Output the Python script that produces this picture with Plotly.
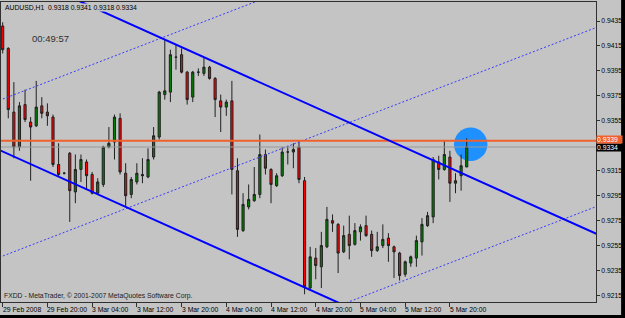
import plotly.graph_objects as go

# ---------------- data (AUDUSD, H1) ----------------
bar_open = [0.9431, 0.9413, 0.9362, 0.9334, 0.9368, 0.9354, 0.9351, 0.9367, 0.9362, 0.9358,
            0.9320, 0.9313, 0.9329, 0.9298, 0.9316, 0.9322, 0.9312, 0.9297, 0.9304, 0.9334,
            0.9338, 0.9357, 0.9313, 0.9296, 0.9306, 0.9312, 0.9310, 0.9326, 0.9342, 0.9376,
            0.9378, 0.9406, 0.9408, 0.9394, 0.9374, 0.9394, 0.9393, 0.9398, 0.9389, 0.9371,
            0.9366, 0.9371, 0.9315, 0.9267, 0.9286, 0.9291, 0.9296, 0.9328, 0.9316, 0.9303,
            0.9311, 0.9330, 0.9330, 0.9334, 0.9307, 0.9221, 0.9245, 0.9238, 0.9254, 0.9275,
            0.9272, 0.9250, 0.9264, 0.9256, 0.9266, 0.9271, 0.9264, 0.9251, 0.9255, 0.9261,
            0.9254, 0.9249, 0.9232, 0.9241, 0.9245, 0.9258, 0.9271, 0.9278, 0.9322, 0.9316,
            0.9326, 0.9305, 0.9311, 0.9318]
bar_high = [0.9434, 0.9414, 0.9386, 0.9370, 0.9380, 0.9358, 0.9387, 0.9374, 0.9369, 0.9360,
            0.9337, 0.9314, 0.9330, 0.9328, 0.9328, 0.9324, 0.9314, 0.9309, 0.9335, 0.9350,
            0.9360, 0.9361, 0.9321, 0.9310, 0.9321, 0.9325, 0.9333, 0.9350, 0.9379, 0.9420,
            0.9412, 0.9416, 0.9413, 0.9395, 0.9395, 0.9397, 0.9406, 0.9399, 0.9390, 0.9376,
            0.9372, 0.9387, 0.9325, 0.9297, 0.9304, 0.9318, 0.9344, 0.9332, 0.9317, 0.9313,
            0.9334, 0.9335, 0.9337, 0.9339, 0.9310, 0.9254, 0.9253, 0.9266, 0.9286, 0.9280,
            0.9273, 0.9271, 0.9279, 0.9273, 0.9272, 0.9279, 0.9267, 0.9266, 0.9272, 0.9265,
            0.9255, 0.9250, 0.9243, 0.9247, 0.9263, 0.9277, 0.9282, 0.9326, 0.9327, 0.9339,
            0.9331, 0.9313, 0.9328, 0.9341]
bar_low = [0.9409, 0.9357, 0.9325, 0.9331, 0.9354, 0.9307, 0.9350, 0.9357, 0.9351, 0.9318,
           0.9310, 0.9312, 0.9274, 0.9289, 0.9306, 0.9300, 0.9296, 0.9296, 0.9302, 0.9333,
           0.9324, 0.9312, 0.9286, 0.9293, 0.9304, 0.9305, 0.9309, 0.9324, 0.9340, 0.9372,
           0.9370, 0.9396, 0.9393, 0.9368, 0.9370, 0.9391, 0.9391, 0.9388, 0.9358, 0.9346,
           0.9359, 0.9296, 0.9262, 0.9266, 0.9284, 0.9290, 0.9293, 0.9312, 0.9289, 0.9302,
           0.9310, 0.9320, 0.9317, 0.9305, 0.9216, 0.9219, 0.9228, 0.9221, 0.9253, 0.9266,
           0.9233, 0.9249, 0.9244, 0.9255, 0.9259, 0.9262, 0.9246, 0.9250, 0.9253, 0.9242,
           0.9229, 0.9227, 0.9230, 0.9238, 0.9238, 0.9247, 0.9270, 0.9273, 0.9308, 0.9315,
           0.9290, 0.9297, 0.9299, 0.9318]
bar_close = [0.9412, 0.9364, 0.9334, 0.9367, 0.9356, 0.9350, 0.9366, 0.9361, 0.9359, 0.9320,
             0.9312, 0.9313, 0.9299, 0.9316, 0.9324, 0.9311, 0.9297, 0.9306, 0.9334, 0.9337,
             0.9358, 0.9314, 0.9295, 0.9308, 0.9313, 0.9311, 0.9324, 0.9343, 0.9378, 0.9379,
             0.9408, 0.9406, 0.9394, 0.9372, 0.9394, 0.9394, 0.9398, 0.9389, 0.9372, 0.9366,
             0.9370, 0.9316, 0.9268, 0.9288, 0.9292, 0.9296, 0.9328, 0.9317, 0.9304, 0.9311,
             0.9330, 0.9330, 0.9332, 0.9308, 0.9222, 0.9246, 0.9239, 0.9255, 0.9276, 0.9273,
             0.9249, 0.9263, 0.9255, 0.9267, 0.9270, 0.9263, 0.9251, 0.9254, 0.9260, 0.9255,
             0.9250, 0.9231, 0.9242, 0.9246, 0.9259, 0.9272, 0.9279, 0.9324, 0.9316, 0.9328,
             0.9305, 0.9307, 0.9319, 0.9334]
bar_index = list(range(len(bar_open)))

time_tick_bars = [0, 8, 16, 24, 32, 40, 48, 56, 64, 72, 80]
time_tick_labels = ["29 Feb 2008", "29 Feb 20:00", "3 Mar 04:00", "3 Mar 12:00", "3 Mar 20:00",
                    "4 Mar 04:00", "4 Mar 12:00", "4 Mar 20:00", "5 Mar 04:00", "5 Mar 12:00",
                    "5 Mar 20:00"]
price_ticks = [0.9215, 0.9235, 0.9255, 0.9275, 0.9295, 0.9315, 0.9355, 0.9375, 0.9395,
               0.9415, 0.9435]
ask_price = 0.9339
bid_price = 0.9334
title_text = "AUDUSD,H1  0.9318 0.9341 0.9318 0.9334"
clock_text = "00:49:57"
footer_text = "FXDD - MetaTrader, © 2001-2007 MetaQuotes Software Corp."

# trend lines as two anchors: (bar1, price1, bar2, price2)
channel_upper = (29, 0.94201, 83, 0.93112)
channel_lower = (29, 0.92719, 83, 0.91630)
dotted_upper = (0, 0.93724, 83, 0.95156)
dotted_middle = (0, 0.92466, 83, 0.93898)
dotted_lower = (0, 0.91031, 83, 0.92463)
# highlight ellipse: centre bar, centre price, half width (bars), half height (price)
highlight = (83.72, 0.93362, 2.99, 0.00134)

x_range = [-0.30, 106.13]
y_range = [0.920979, 0.945023]

BG = "#C4C4C4"
FONT = "Liberation Sans, Arial, sans-serif"
FS = 6.8

fig = go.Figure()
fig.add_trace(go.Candlestick(
    x=bar_index, open=bar_open, high=bar_high, low=bar_low, close=bar_close,
    increasing=dict(fillcolor="#008000", line=dict(color="#202020", width=1)),
    decreasing=dict(fillcolor="#FF0000", line=dict(color="#202020", width=1)),
    whiskerwidth=0, hoverinfo="skip", showlegend=False,
))

shapes = []
cx, cy, rx, ry = highlight
shapes.append(dict(type="circle", xref="x", yref="y", x0=cx - rx, x1=cx + rx,
                   y0=cy - ry, y1=cy + ry, fillcolor="#1E90FF",
                   line=dict(width=0), layer="below"))


def extended(anchor):
    b1, p1, b2, p2 = anchor
    k = (p2 - p1) / (b2 - b1)
    xa, xb = x_range[0] - 1, x_range[1] + 1
    return xa, p1 + k * (xa - b1), xb, p1 + k * (xb - b1)


for anc in (dotted_upper, dotted_middle, dotted_lower):
    xa, ya, xb, yb = extended(anc)
    shapes.append(dict(type="line", xref="x", yref="y", x0=xa, y0=ya, x1=xb, y1=yb,
                       line=dict(color="#3A3AFF", width=1, dash="2px,2px"), layer="above"))

# bid / ask lines
shapes.append(dict(type="line", xref="paper", yref="y", x0=0, x1=1, y0=bid_price, y1=bid_price,
                   line=dict(color="#9A9A9A", width=1), layer="above"))
shapes.append(dict(type="line", xref="paper", yref="y", x0=0, x1=1, y0=ask_price, y1=ask_price,
                   line=dict(color="#F0602C", width=2), layer="above"))

for anc in (channel_upper, channel_lower):
    xa, ya, xb, yb = extended(anc)
    shapes.append(dict(type="line", xref="x", yref="y", x0=xa, y0=ya, x1=xb, y1=yb,
                       line=dict(color="#0000FF", width=2), layer="above"))

# window borders (black) on right and bottom
shapes.append(dict(type="rect", xref="paper", yref="paper", x0=1.0422, x1=1.07, y0=-0.08, y1=1.02,
                   fillcolor="black", line=dict(width=0), layer="above"))
shapes.append(dict(type="rect", xref="paper", yref="paper", x0=-0.01, x1=1.07, y0=-0.08, y1=-0.0436,
                   fillcolor="black", line=dict(width=0), layer="above"))

annotations = []
for b, lab in zip(time_tick_bars, time_tick_labels):
    annotations.append(dict(x=b, y=0, xref="x", yref="paper", xanchor="left", yanchor="top",
                            yshift=-2, xshift=-2, text=lab, showarrow=False,
                            font=dict(family=FONT, size=FS, color="black")))
annotations.append(dict(x=0, y=1, xref="paper", yref="paper", xanchor="left", yanchor="top",
                        xshift=3, yshift=-1, text=title_text, showarrow=False, bgcolor=BG,
                        borderpad=0, font=dict(family=FONT, size=FS, color="black")))
annotations.append(dict(x=0.0832, y=0.8767, xref="paper", yref="paper", xanchor="center",
                        yanchor="middle", text=clock_text, showarrow=False,
                        font=dict(family=FONT, size=9.5, color="#303030")))
annotations.append(dict(x=0, y=0, xref="paper", yref="paper", xanchor="left", yanchor="bottom",
                        xshift=1, yshift=0, text=footer_text, showarrow=False,
                        font=dict(family=FONT, size=FS, color="#202020")))
annotations.append(dict(x=1, y=bid_price, xref="paper", yref="y", xanchor="left", yanchor="middle",
                        xshift=0, text=f"{bid_price:.4f}", showarrow=False, bgcolor="black",
                        borderpad=0, width=25, align="left",
                        font=dict(family=FONT, size=FS, color="white")))
annotations.append(dict(x=1, y=ask_price, xref="paper", yref="y", xanchor="left", yanchor="middle",
                        xshift=0, yshift=1, text=f"{ask_price:.4f}", showarrow=False, bgcolor="#F0602C",
                        borderpad=0, width=25, align="left",
                        font=dict(family=FONT, size=FS, color="white")))

fig.update_layout(
    width=625, height=318,
    margin=dict(l=1, r=29, t=2, b=16, pad=0),
    paper_bgcolor=BG, plot_bgcolor=BG,
    showlegend=False, boxgap=0.45,
    shapes=shapes, annotations=annotations,
    xaxis=dict(range=x_range, tickvals=time_tick_bars, ticktext=[""] * len(time_tick_bars),
               ticks="outside", ticklen=4, tickcolor="#303030", showline=True, linecolor="#303030",
               linewidth=1, mirror=True, showgrid=False, zeroline=False,
               rangeslider=dict(visible=False), fixedrange=True),
    yaxis=dict(range=y_range, side="right", tickvals=price_ticks,
               ticktext=[f"{v:.4f}" for v in price_ticks], ticks="outside", ticklen=3,
               tickcolor="#303030", showline=True, linecolor="#303030", linewidth=1, mirror=True,
               showgrid=False, zeroline=False, fixedrange=True,
               tickfont=dict(family=FONT, size=FS, color="black")),
)

fig.write_html("out.html")
